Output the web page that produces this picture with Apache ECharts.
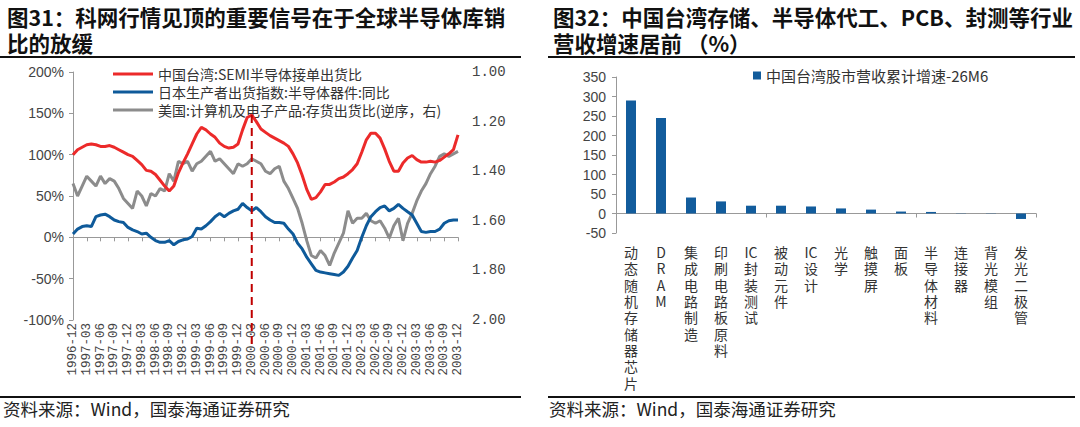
<!DOCTYPE html>
<html>
<head>
<meta charset="utf-8">
<script src="https://cdn.jsdelivr.net/npm/echarts@6/dist/echarts.min.js"></script>
<style>
html, body { margin: 0; padding: 0; background: #fff; }
#main { width: 1080px; height: 427px; }
</style>
</head>
<body>
<div id="main"></div>
<script>
// 图31 月度数据 1996-12 ~ 2003-12
var months = [
  '1996-12',
  '1997-01','1997-02','1997-03','1997-04','1997-05','1997-06','1997-07','1997-08','1997-09','1997-10','1997-11','1997-12',
  '1998-01','1998-02','1998-03','1998-04','1998-05','1998-06','1998-07','1998-08','1998-09','1998-10','1998-11','1998-12',
  '1999-01','1999-02','1999-03','1999-04','1999-05','1999-06','1999-07','1999-08','1999-09','1999-10','1999-11','1999-12',
  '2000-01','2000-02','2000-03','2000-04','2000-05','2000-06','2000-07','2000-08','2000-09','2000-10','2000-11','2000-12',
  '2001-01','2001-02','2001-03','2001-04','2001-05','2001-06','2001-07','2001-08','2001-09','2001-10','2001-11','2001-12',
  '2002-01','2002-02','2002-03','2002-04','2002-05','2002-06','2002-07','2002-08','2002-09','2002-10','2002-11','2002-12',
  '2003-01','2003-02','2003-03','2003-04','2003-05','2003-06','2003-07','2003-08','2003-09','2003-10','2003-11','2003-12'
];
// 中国台湾:SEMI半导体接单出货比 (%)
var twBookToBill = [
  100,106,109,112,113,112,110,110,111,109,106,103,100,98,93,88,81,80,76,69,62,56,62,78,90,
  101,113,125,133,130,125,121,114,110,108,109,113,130,145,148,140,131,127,123,120,117,114,110,
  101,90,75,58,46,48,55,64,64,67,71,73,77,82,89,103,118,126,126,120,107,92,80,80,
  90,96,99,94,91,91,92,91,93,97,101,106,124
];
// 日本生产者出货指数:半导体器件:同比 (%)
var jpShipYoy = [
  4,10,13,14,13,25,27,28,25,21,19,18,12,9,7,4,5,0,-4,-6,-6,-4,-9,-5,-3,
  -2,1,11,10,14,19,25,29,25,29,32,34,41,36,32,36,31,25,21,18,18,17,10,
  4,-7,-14,-24,-32,-40,-42,-43,-44,-45,-46,-42,-35,-25,-16,0,14,25,31,36,38,32,35,40,
  35,31,27,17,7,6,7,7,10,17,20,21,21
];
// 美国:计算机及电子产品:存货出货比 (逆序，右轴)
var usInvShip = [
  1.45,1.50,1.46,1.42,1.44,1.46,1.42,1.45,1.43,1.44,1.47,1.51,1.53,1.55,1.48,1.50,1.54,1.49,1.50,1.47,1.48,1.41,1.44,1.36,1.37,
  1.36,1.40,1.37,1.36,1.34,1.32,1.36,1.35,1.37,1.39,1.41,1.37,1.38,1.37,1.35,1.36,1.37,1.40,1.41,1.39,1.38,1.44,1.47,
  1.51,1.55,1.61,1.68,1.74,1.75,1.72,1.74,1.78,1.73,1.69,1.65,1.56,1.61,1.59,1.59,1.57,1.60,1.61,1.60,1.63,1.67,1.62,1.59,
  1.68,1.61,1.57,1.52,1.48,1.45,1.41,1.38,1.34,1.33,1.34,1.33,1.32
];
var peakMonth = '2000-03';

// 图32 行业营收累计增速
var sectors = ['动态随机存储器芯片','DRAM','集成电路制造','印刷电路板原料','IC封装测试','被动元件','IC设计','光学','触摸屏','面板','半导体材料','连接器','背光模组','发光二极管'];
var sectorGrowth = [290, 245, 41, 31, 20, 20, 18, 13, 10, 5, 4, 0.6, -0.6, -14];

var leftNames = ['中国台湾:SEMI半导体接单出货比', '日本生产者出货指数:半导体器件:同比', '美国:计算机及电子产品:存货出货比(逆序，右)'];
var rightName = '中国台湾股市营收累计增速-26M6';

var cjk = '"Noto Sans CJK SC", "Noto Sans", sans-serif';
var dom = document.getElementById('main');
var myChart = echarts.init(dom, null, { renderer: 'svg' });

// 竖排标签：逐字换行，连续字母保持在一起（纯英文则逐字）
function stackLabel(s) {
  if (/^[A-Za-z]+$/.test(s)) return s.split('').join('\n');
  return s.match(/[A-Za-z]+|./g).join('\n');
}

var option = {
  backgroundColor: '#fff',
  animation: false,
  textStyle: { fontFamily: cjk },
  title: [
    {
      text: '图31：科网行情见顶的重要信号在于全球半导体库销\n比的放缓',
      left: 2, top: -2,
      textStyle: { fontSize: 21.5, fontWeight: 'bold', color: '#111', lineHeight: 26, fontFamily: cjk }
    },
    {
      text: '图32：中国台湾存储、半导体代工、PCB、封测等行业\n营收增速居前 （%）',
      left: 548, top: -2,
      textStyle: { fontSize: 21.5, fontWeight: 'bold', color: '#111', lineHeight: 26, fontFamily: cjk }
    }
  ],
  legend: [
    {
      data: leftNames,
      orient: 'vertical',
      left: 108, top: 62,
      icon: 'rect', itemWidth: 40, itemHeight: 3, itemGap: 4,
      textStyle: { fontSize: 14, color: '#333', fontFamily: cjk }
    },
    {
      data: [rightName],
      left: 748, top: 63,
      icon: 'rect', itemWidth: 8, itemHeight: 8, itemGap: 4,
      textStyle: { fontSize: 15, color: '#333', fontFamily: cjk }
    }
  ],
  grid: [
    { left: 73, top: 72, width: 385, height: 248, outerBoundsMode: 'none', containLabel: false },
    { left: 616, top: 77, width: 420, height: 156, outerBoundsMode: 'none', containLabel: false }
  ],
  xAxis: [
    {
      type: 'category', gridIndex: 0, data: months, boundaryGap: false, position: 'bottom',
      axisLine: { show: false, onZero: false }, axisTick: { show: false },
      axisLabel: { rotate: 90, interval: 2, margin: 3, fontSize: 12.5, lineHeight: 10, color: '#444', showMinLabel: true, showMaxLabel: true, hideOverlap: false, fontFamily: '"Liberation Mono", monospace' }
    },
    {
      type: 'category', gridIndex: 0, data: months, boundaryGap: false, position: 'bottom',
      axisLine: { show: true, onZero: true, lineStyle: { color: '#999', width: 1 } },
      axisTick: { show: true, interval: 2, length: 4, lineStyle: { color: '#999' } },
      axisLabel: { show: false }
    },
    {
      type: 'category', gridIndex: 1, data: sectors, position: 'bottom',
      axisLine: { show: false, onZero: false }, axisTick: { show: false },
      axisLabel: { interval: 0, margin: 11, fontSize: 14, lineHeight: 16.3, color: '#333', formatter: stackLabel }
    },
    {
      type: 'category', gridIndex: 1, data: sectors, position: 'bottom',
      axisLine: { show: true, onZero: true, lineStyle: { color: '#999', width: 1 } },
      axisTick: { show: true, length: 4, lineStyle: { color: '#999' } },
      axisLabel: { show: false }
    }
  ],
  yAxis: [
    {
      type: 'value', gridIndex: 0, min: -100, max: 200, interval: 50,
      axisLine: { show: true, lineStyle: { color: '#999' } },
      axisTick: { show: true, length: 4, lineStyle: { color: '#999' } },
      splitLine: { show: false },
      axisLabel: { formatter: '{value}%', fontSize: 14, color: '#444', margin: 9, showMinLabel: true, showMaxLabel: true, fontFamily: '"Liberation Sans", sans-serif' }
    },
    {
      type: 'value', gridIndex: 0, position: 'right', min: 1, max: 2, interval: 0.2, inverse: true,
      axisLine: { show: false }, axisTick: { show: false }, splitLine: { show: false },
      axisLabel: { formatter: function (v) { return v.toFixed(2); }, fontSize: 14, color: '#444', margin: 14, showMinLabel: true, showMaxLabel: true, fontFamily: '"Liberation Mono", monospace' }
    },
    {
      type: 'value', gridIndex: 1, min: -50, max: 350, interval: 50,
      axisLine: { show: true, lineStyle: { color: '#999' } },
      axisTick: { show: true, length: 4, lineStyle: { color: '#999' } },
      splitLine: { show: false },
      axisLabel: { fontSize: 14, color: '#444', margin: 10, showMinLabel: true, showMaxLabel: true, fontFamily: '"Liberation Sans", sans-serif' }
    }
  ],
  series: [
    {
      name: leftNames[2], type: 'line', xAxisIndex: 0, yAxisIndex: 1, data: usInvShip,
      symbol: 'none', itemStyle: { color: '#8C8C8C' }, lineStyle: { color: '#8C8C8C', width: 3 }, z: 2
    },
    {
      name: leftNames[1], type: 'line', xAxisIndex: 0, yAxisIndex: 0, data: jpShipYoy,
      symbol: 'none', itemStyle: { color: '#0E5A9A' }, lineStyle: { color: '#0E5A9A', width: 3 }, z: 3
    },
    {
      name: leftNames[0], type: 'line', xAxisIndex: 0, yAxisIndex: 0, data: twBookToBill,
      symbol: 'none', itemStyle: { color: '#EC2A2A' }, lineStyle: { color: '#EC2A2A', width: 3 }, z: 4
    },
    {
      name: rightName, type: 'bar', xAxisIndex: 2, yAxisIndex: 2, data: sectorGrowth,
      barWidth: 10, itemStyle: { color: '#125C9C' }
    }
  ],
  graphic: [
    { id: 'ruleTopL', type: 'rect', shape: { x: 0, y: 56, width: 521, height: 2 }, style: { fill: '#111' } },
    { id: 'ruleTopR', type: 'rect', shape: { x: 548, y: 56, width: 527, height: 2 }, style: { fill: '#111' } },
    { id: 'ruleBotL', type: 'rect', shape: { x: 0, y: 396, width: 521, height: 2 }, style: { fill: '#111' } },
    { id: 'ruleBotR', type: 'rect', shape: { x: 548, y: 396, width: 527, height: 2 }, style: { fill: '#111' } },
    { id: 'srcL', type: 'text', left: 3, top: 400, style: { text: '资料来源：Wind，国泰海通证券研究', fontSize: 17.5, fill: '#222', fontFamily: cjk } },
    { id: 'srcR', type: 'text', left: 549, top: 400, style: { text: '资料来源：Wind，国泰海通证券研究', fontSize: 17.5, fill: '#222', fontFamily: cjk } }
  ]
};

if (option && typeof option === 'object') {
  myChart.setOption(option, true);
}

// 2000-03 见顶标记：位置由坐标轴换算
var pTop = myChart.convertToPixel({ xAxisIndex: 0, yAxisIndex: 0 }, [peakMonth, 148]);
var pBot = myChart.convertToPixel({ xAxisIndex: 0, yAxisIndex: 0 }, [peakMonth, -100]);
myChart.setOption({
  graphic: [{
    id: 'peakLine', type: 'line', z: 10,
    shape: { x1: pTop[0], y1: pTop[1], x2: pBot[0], y2: pBot[1] + 26 },
    style: { stroke: '#C00000', lineWidth: 2, lineDash: [8, 5] }
  }]
});
</script>
</body>
</html>
